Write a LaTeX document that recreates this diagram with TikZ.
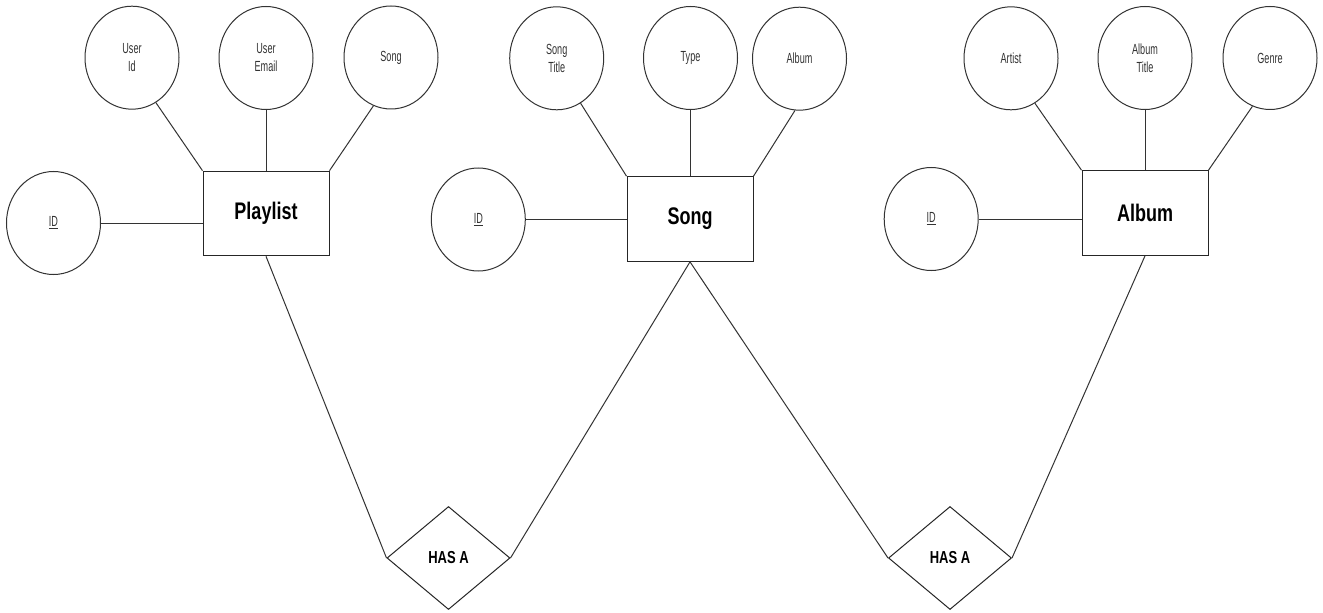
\documentclass[tikz,border=0pt]{standalone}
\usepackage{fontspec}
\setmainfont{Liberation Sans}
\newfontfamily\attrfont[FakeStretch=0.62]{Liberation Sans}
\newfontfamily\entfont[FakeStretch=0.75]{Liberation Sans}
\usetikzlibrary{shapes.geometric}
\tikzset{
	attr/.style={ellipse, draw=black!80, line width=0.75pt, minimum width=70.5pt, minimum height=77.25pt, inner sep=0pt, align=center, text=black!80, font=\attrfont\fontsize{11}{13.5}\selectfont},
	entity/.style={rectangle, draw=black!85, line width=0.75pt, minimum width=94.5pt, minimum height=63.5pt, font=\entfont\bfseries\fontsize{18}{20}\selectfont},
	rel/.style={diamond, draw=black!85, line width=0.75pt, minimum width=92.25pt, minimum height=77.25pt, inner sep=0pt, font=\entfont\bfseries\fontsize{13}{15}\selectfont},
	link/.style={draw=black!80, line width=0.75pt}
}

\begin{document}
\begin{tikzpicture}[x=0.75pt, y=-0.75pt]
			%%%%% START %%%%%
			\fill[white] (0, 0) rectangle (1323, 613);
			\useasboundingbox (0, 0) rectangle (1323, 613);
			
			% playlist
			\node[entity] (pl) at (266, 213.5) {Playlist};
			\node[attr] (pid) at (53.5, 223) {\underline{ID}};
			\node[attr] (uid) at (132, 57.7) {User\\Id};
			\node[attr] (uem) at (266, 58) {User\\Email};
			\node[attr] (psong) at (391, 57.5) {Song};
			
			% song
			\node[entity] (song) at (690, 219) {Song};
			\node[attr] (sid) at (478.3, 219.5) {\underline{ID}};
			\node[attr] (stitle) at (556.7, 58.3) {Song\\Title};
			\node[attr] (stype) at (690.5, 58) {Type};
			\node[attr] (salb) at (799.5, 58.7) {Album};
			
			% album
			\node[entity] (alb) at (1145, 213) {Album};
			\node[attr] (aid) at (931.2, 219) {\underline{ID}};
			\node[attr] (artist) at (1011, 58.3) {Artist};
			\node[attr] (atitle) at (1145, 58) {Album\\Title};
			\node[attr] (genre) at (1270, 58) {Genre};
			
			% relations
			\node[rel] (has1) at (448.5, 558) {HAS A};
			\node[rel] (has2) at (950, 558) {HAS A};
			
			\draw[link] (pid) -- (pid -| pl.west);
			\draw[link] (uid.-62) -- (pl.north west);
			\draw[link] (uem) -- (uem |- pl.north);
			\draw[link] (psong.-110) -- (pl.north east);
			
			\draw[link] (sid) -- (sid -| song.west);
			\draw[link] (stitle.-62) -- (song.north west);
			\draw[link] (stype) -- (stype |- song.north);
			\draw[link] (salb.-95) -- (song.north east);
			
			\draw[link] (aid) -- (aid -| alb.west);
			\draw[link] (artist.-62) -- (alb.north west);
			\draw[link] (atitle) -- (atitle |- alb.north);
			\draw[link] (genre.-110) -- (alb.north east);
			
			\draw[link] (pl.south) -- (has1.west);
			\draw[link] (song.south) -- (has1.east);
			\draw[link] (song.south) -- (has2.west);
			\draw[link] (alb.south) -- (has2.east);
			
			%%%%% END %%%%%
\end{tikzpicture}
\end{document}
